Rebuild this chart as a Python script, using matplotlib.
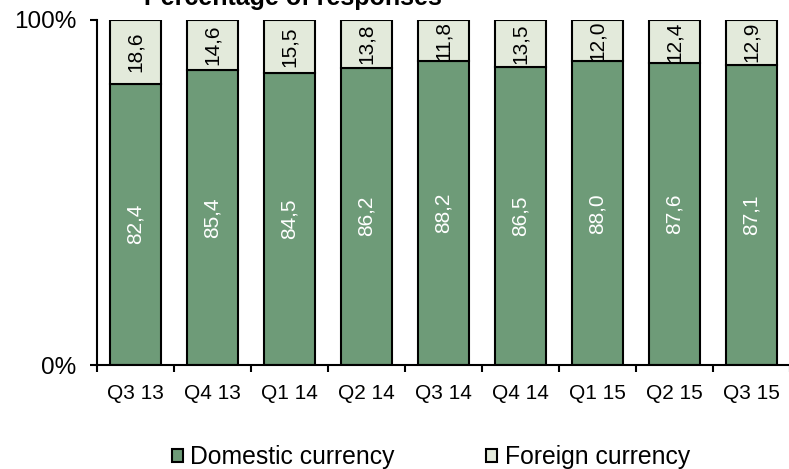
import numpy as np
import matplotlib
matplotlib.use('Agg')
import matplotlib.pyplot as plt
from matplotlib.patches import Patch

plt.rcParams['font.family'] = ['Liberation Sans', 'DejaVu Sans']

# survey answers per quarter (%)
quarters = ['Q3 13', 'Q4 13', 'Q1 14', 'Q2 14', 'Q3 14', 'Q4 14', 'Q1 15', 'Q2 15', 'Q3 15']
domestic = [82.4, 85.4, 84.5, 86.2, 88.2, 86.5, 88.0, 87.6, 87.1]
foreign = [18.6, 14.6, 15.5, 13.8, 11.8, 13.5, 12.0, 12.4, 12.9]

col_dom = '#6e9b78'
col_for = '#e3eadb'

dom = np.array(domestic)
frn = np.array(foreign)
total = dom + frn
dom_sh = dom / total * 100
frn_sh = frn / total * 100

fig = plt.figure(figsize=(7.89, 4.69), dpi=100)
fig.patch.set_facecolor('white')
ax = fig.add_axes([97/789, 104/469, 693/789, 345/469])

x = np.arange(len(quarters))
w = 0.65
ax.bar(x, dom_sh, width=w, color=col_dom, edgecolor='black', lw=1.5, zorder=2)
ax.bar(x, frn_sh, width=w, bottom=dom_sh, color=col_for, edgecolor='black', lw=1.5, zorder=2)

def fmt(v):
   return f"{v:.1f}".replace('.', ',')

for i in range(len(quarters)):
   ax.text(x[i], dom_sh[i]/2, fmt(dom[i]), rotation=90, ha='center', va='center',
      color='white', fontsize=15, zorder=3)
   ax.text(x[i], dom_sh[i] + frn_sh[i]/2, fmt(frn[i]), rotation=90, ha='center',
      va='center', color='black', fontsize=15, zorder=3)

ax.set_xlim(-0.5, len(quarters) - 0.5)
ax.set_ylim(0, 100)
ax.set_yticks([0, 100])
ax.set_yticklabels(['0%', '100%'])
ax.set_xticks(x)
ax.set_xticklabels(quarters)
ax.set_xticks(np.arange(len(quarters) + 1) - 0.5, minor=True)

ax.tick_params(axis='x', which='major', length=0, pad=14, labelsize=15)
ax.tick_params(axis='x', which='minor', direction='out', length=5, width=1.5)
ax.tick_params(axis='y', which='major', direction='out', length=5, width=1.5,
   pad=10, labelsize=17.5)

for s in ['top', 'right']:
   ax.spines[s].set_visible(False)
ax.spines['left'].set_linewidth(1.5)
ax.spines['bottom'].set_linewidth(1.5)

fig.text(293/789, 1 - 5/469, 'Percentage of responses', ha='center', va='baseline',
   fontsize=18, fontweight='bold')

handles = [Patch(facecolor=col_dom, edgecolor='black', lw=1.5, label='Domestic currency'),
   Patch(facecolor=col_for, edgecolor='black', lw=1.5, label='Foreign currency')]
fig.legend(handles=handles, loc='center', bbox_to_anchor=(431/789, 1 - 457/469),
   ncol=2, frameon=False, fontsize=17.8, handlelength=0.45, handleheight=0.45,
   handletextpad=0.3, columnspacing=3.7, borderpad=0, borderaxespad=0)

fig.savefig('out.png', dpi=100)
